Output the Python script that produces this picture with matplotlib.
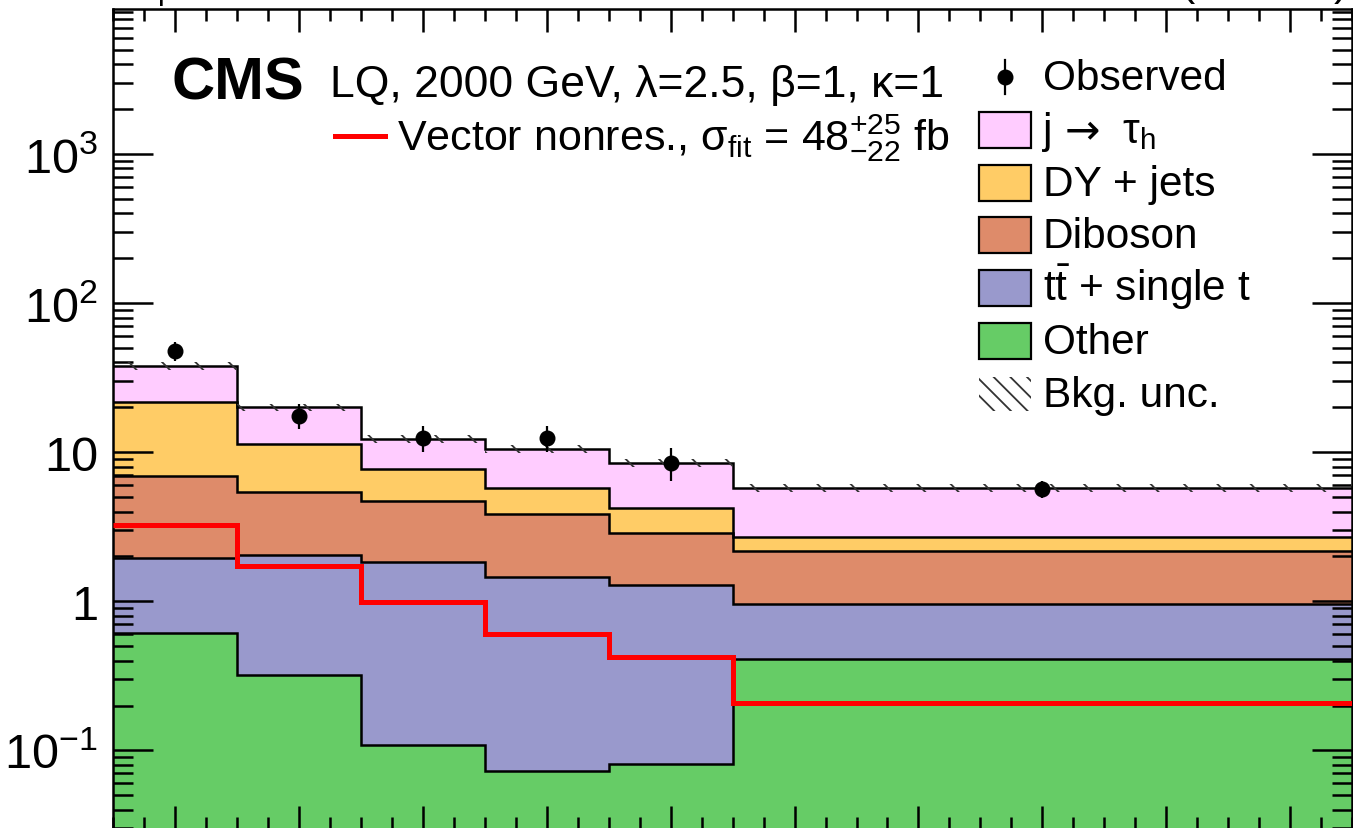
import matplotlib
matplotlib.use("Agg")
import matplotlib.pyplot as plt
import numpy as np
from matplotlib.lines import Line2D
from matplotlib.patches import Rectangle
from matplotlib.ticker import LogLocator, MultipleLocator, NullFormatter

plt.rcParams["font.family"] = ["Liberation Sans", "DejaVu Sans"]
plt.rcParams["mathtext.fontset"] = "custom"
plt.rcParams["mathtext.rm"] = "Liberation Sans"
plt.rcParams["mathtext.it"] = "Liberation Sans:italic"
plt.rcParams["mathtext.bf"] = "Liberation Sans:bold"
plt.rcParams["hatch.linewidth"] = 1.3

# bin edges (m_vis-like axis) and centres for the observed points
EDGES = [50, 150, 250, 350, 450, 550, 1050]
CENTERS = [100, 200, 300, 400, 500, 800]

# backgrounds, stacked bottom -> top
OTHER = [0.61, 0.32, 0.109, 0.073, 0.081, 0.41]
TTBAR = [1.33, 1.73, 1.73, 1.39, 1.21, 0.55]
DIBOSON = [5.02, 3.38, 2.90, 2.39, 1.58, 1.22]
DY = [14.8, 5.92, 2.98, 1.90, 1.36, 0.53]
JTAU = [16.2, 8.65, 4.56, 4.75, 4.24, 3.04]
BKG_UNC = 0.06

SIGNAL = [3.25, 1.73, 0.985, 0.605, 0.425, 0.208]

OBS = [47.5, 17.4, 12.4, 12.4, 8.47, 5.67]
OBS_UP = [54.5, 21.0, 15.1, 15.1, 10.6, 6.44]
OBS_DOWN = [41.0, 14.3, 10.0, 10.0, 6.38, 4.91]

# "j -> tau_h" label is drawn in pieces below (arrow from DejaVu Sans)
LAYERS = [
    ("Other", OTHER, "#66cc66"),
    (r"$\mathregular{t\bar{t}}$ + single t", TTBAR, "#9999cc"),
    ("Diboson", DIBOSON, "#de8b6a"),
    ("DY + jets", DY, "#ffcc66"),
    (None, JTAU, "#ffccff"),
]

W, H = 1353, 829


def fx(x):
    return x / W


def fy(y):
    return 1 - y / H


def main() -> None:
    fig = plt.figure(figsize=(W / 100, H / 100), dpi=100)
    ax = fig.add_axes([fx(113.4), fy(830), 1238.5 / W, 820 / H])

    cum = np.zeros(len(OTHER))
    tops = []
    for _, vals, col in LAYERS:
        top = cum + np.array(vals)
        ax.stairs(top, EDGES, baseline=np.maximum(cum, 1e-4), fill=True,
                  color=col, lw=0, zorder=1)
        tops.append(top)
        cum = top
    for top in tops:
        ax.stairs(top, EDGES, baseline=None, color="k", lw=1.8, zorder=2)

    total = tops[-1]
    ax.stairs(total * (1 + BKG_UNC), EDGES, baseline=total * (1 - BKG_UNC),
              fill=True, facecolor="none", edgecolor="#333333",
              hatch="\\", lw=0, zorder=3)

    ax.stairs(SIGNAL, EDGES, baseline=None, color="#ff0000", lw=3.6, zorder=4)

    obs = np.array(OBS)
    yerr = [obs - np.array(OBS_DOWN), np.array(OBS_UP) - obs]
    ax.errorbar(CENTERS, obs, yerr=yerr, fmt="o", color="k", ms=10.5,
                elinewidth=1.6, capsize=0, zorder=5)

    ax.set_yscale("log")
    ax.set_xlim(50, 1050)
    ax.set_ylim(0.0297, 9390)
    ax.xaxis.set_major_locator(MultipleLocator(100))
    ax.xaxis.set_minor_locator(MultipleLocator(25))
    ax.set_yticks([0.1, 1, 10, 100, 1000])
    ax.set_yticklabels([r"$\mathregular{10^{-1}}$", "1", "10",
                        r"$\mathregular{10^{2}}$", r"$\mathregular{10^{3}}$"])
    ax.yaxis.set_minor_locator(LogLocator(base=10, subs=range(2, 10), numticks=30))
    ax.yaxis.set_minor_formatter(NullFormatter())

    ax.tick_params(which="both", direction="in", top=True, right=True,
                   width=1.8, labelbottom=False)
    ax.tick_params(axis="x", which="major", length=16.5)
    ax.tick_params(axis="x", which="minor", length=8.6)
    ax.tick_params(axis="y", which="major", length=28.8, labelsize=35, pad=11)
    ax.tick_params(axis="y", which="minor", length=14.4)
    for sp in ax.spines.values():
        sp.set_linewidth(1.8)

    # header lines, mostly cut off by the top edge
    fig.text(fx(140), 1 + 4.5 / H, r"$\mathregular{τ_{μ}τ_{h}}$, $\mathregular{m_{vis}}$",
             fontsize=31, va="baseline")
    fig.text(fx(1347), 1 + 4.5 / H, r"138 fb$^{\mathregular{-1}}$ (13 TeV)",
             fontsize=31, va="baseline", ha="right")

    fig.text(fx(172), fy(100), "CMS", fontsize=43, fontweight="bold", va="baseline")
    fig.text(fx(330), fy(97), "LQ, 2000 GeV, λ=2.5, β=1, κ=1", fontsize=32,
             va="baseline")
    fig.add_artist(Line2D([fx(335), fx(385)], [fy(137), fy(137)], color="#ff0000",
                          lw=3.6))
    fig.text(fx(397), fy(150),
             r"Vector nonres., $\mathregular{σ_{fit}}$ = $\mathregular{48^{+25}_{-22}}$ fb",
             fontsize=31, va="baseline")

    # legend on the right
    row0, step = 78, 52.8
    fig.add_artist(Line2D([fx(1005)], [fy(row0)], marker="o", color="k", ms=10.5))
    fig.add_artist(Line2D([fx(1005), fx(1005)], [fy(row0 - 17), fy(row0 + 17)],
                          color="k", lw=1.6))
    fig.text(fx(1043), fy(row0 + 12), "Observed", fontsize=30.5, va="baseline")
    for i, (label, _, col) in enumerate(reversed(LAYERS)):
        yc = row0 + step * (i + 1)
        fig.add_artist(Rectangle((fx(979), fy(yc + 18)), 52 / W, 36 / H,
                                 facecolor=col, edgecolor="k", lw=1.6))
        if label is None:
            fig.text(fx(1043), fy(yc + 12), "j", fontsize=30.5, va="baseline")
            fig.text(fx(1065), fy(yc + 12), "→", fontsize=30.5, va="baseline",
                     family="DejaVu Sans")
            fig.text(fx(1122), fy(yc + 12), r"$\mathregular{τ_{h}}$",
                     fontsize=30.5, va="baseline")
        else:
            fig.text(fx(1043), fy(yc + 12), label, fontsize=30.5, va="baseline")
    yc = row0 + step * 6
    fig.add_artist(Rectangle((fx(979), fy(yc + 17)), 52 / W, 34 / H,
                             facecolor="none", edgecolor="#333333", lw=0,
                             hatch="\\\\"))
    fig.text(fx(1043), fy(yc + 12), "Bkg. unc.", fontsize=30.5, va="baseline")

    fig.savefig("out.png", dpi=100)


if __name__ == "__main__":
    main()
